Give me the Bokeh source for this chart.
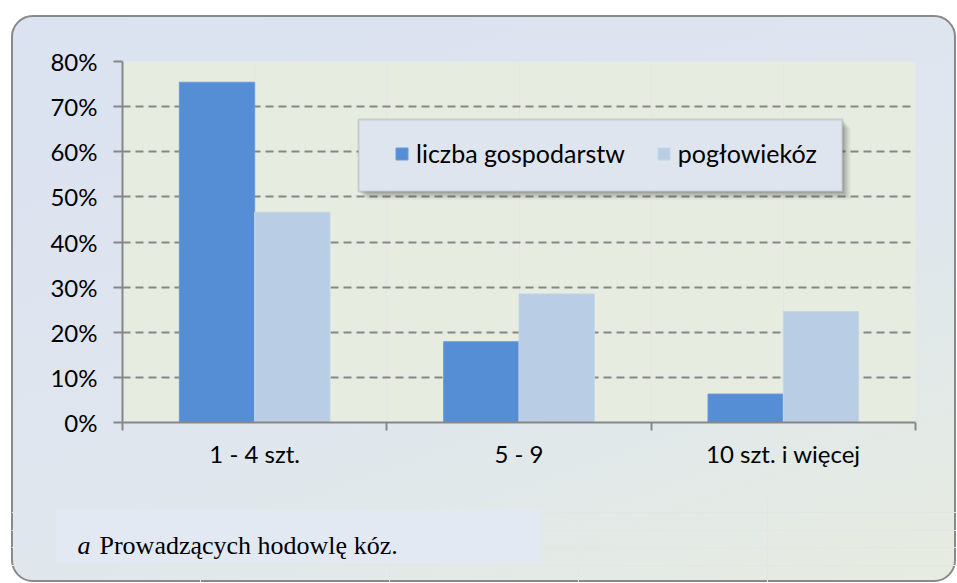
from bokeh.plotting import figure
from bokeh.layouts import column
from bokeh.models import (Range1d, FixedTicker, LinearAxis, NumeralTickFormatter, Legend,
                          LegendItem, BoxAnnotation, Label, Grid)
from bokeh.embed import file_html
from bokeh.resources import INLINE

# ---- data ----
categories = ["1 - 4 szt.", "5 - 9", "10 szt. i więcej"]
series_names = ["liczba gospodarstw", "pogłowiekóz"]
gospodarstw = [0.754, 0.179, 0.063]
poglowie = [0.466, 0.285, 0.246]
y_ticks = [0.0, 0.1, 0.2, 0.3, 0.4, 0.5, 0.6, 0.7, 0.8]
footnote_mark = "a"
footnote_text = "Prowadzących hodowlę kóz."

# ---- style ----
DARK = "#558ed5"
LIGHT = "#b9cde5"
GRAY = "#878787"
FONT = "Lato"
FS = "24px"

centers = [i + 0.5 for i in range(len(categories))]
boundaries = [float(i) for i in range(len(categories) + 1)]
bar_w = 0.285
x_dark = [c - bar_w / 2 for c in centers]
x_light = [c + bar_w / 2 for c in centers]

p = figure(width=945, height=480, x_range=Range1d(0, len(categories)), y_range=Range1d(0, 0.8),
           output_backend="svg", toolbar_location=None,
           x_axis_location=None, y_axis_location=None,
           min_border_left=111, min_border_right=41, min_border_top=46, min_border_bottom=73)
p.outline_line_color = None
p.background_fill_color = "#e7ece0"
p.border_fill_alpha = 0
p.frame_align = False

# y axis
yaxis = LinearAxis(ticker=FixedTicker(ticks=y_ticks), formatter=NumeralTickFormatter(format="0%"))
yaxis.axis_line_color = GRAY
yaxis.axis_line_width = 2
yaxis.major_tick_line_color = GRAY
yaxis.major_tick_line_width = 2
yaxis.major_tick_out = 9
yaxis.major_tick_in = 0
yaxis.minor_tick_line_color = None
yaxis.major_label_standoff = 16
yaxis.major_label_text_font = FONT
yaxis.major_label_text_font_size = FS
yaxis.major_label_text_color = "#000000"
p.add_layout(yaxis, "left")

grid = Grid(dimension=1, ticker=yaxis.ticker)
grid.grid_line_color = GRAY
grid.grid_line_width = 2
grid.grid_line_dash = "8 5"
p.add_layout(grid)

# x axis: labels at category centres, tick marks at category boundaries (minor ticks)
xaxis = LinearAxis(ticker=FixedTicker(ticks=centers, minor_ticks=boundaries))
xaxis.major_label_overrides = {c: cat for c, cat in zip(centers, categories)}
xaxis.axis_line_color = GRAY
xaxis.axis_line_width = 2
xaxis.major_tick_line_color = None
xaxis.major_tick_out = 0
xaxis.major_tick_in = 0
xaxis.minor_tick_line_color = GRAY
xaxis.minor_tick_line_width = 2
xaxis.minor_tick_out = 8
xaxis.minor_tick_in = 0
xaxis.major_label_standoff = 8
xaxis.major_label_text_font = FONT
xaxis.major_label_text_font_size = FS
xaxis.major_label_text_color = "#000000"
p.add_layout(xaxis, "below")

r1 = p.vbar(x=x_dark, top=gospodarstw, width=bar_w, bottom=0, fill_color=DARK,
            line_color="#6a9bdb", line_width=1)
r2 = p.vbar(x=x_light, top=poglowie, width=bar_w, bottom=0, fill_color=LIGHT,
            line_color="#c6d6ea", line_width=1)

# legend box with shadow (screen units relative to frame)
for off, a in [(8, 0.05), (6, 0.07), (4, 0.09), (2, 0.1)]:
    p.add_layout(BoxAnnotation(left=236 + off, right=720 + off, top=303 - off, bottom=231 - off,
                               left_units="screen", right_units="screen",
                               top_units="screen", bottom_units="screen",
                               fill_color="#000000", fill_alpha=a, line_color=None))
p.add_layout(BoxAnnotation(left=236, right=720, top=303, bottom=231,
                           left_units="screen", right_units="screen",
                           top_units="screen", bottom_units="screen",
                           fill_color="#dee5ef", fill_alpha=1.0, line_color="#8c8c8c", line_width=2))

legend = Legend(items=[LegendItem(label=series_names[0], renderers=[r1]),
                       LegendItem(label=series_names[1], renderers=[r2])],
                orientation="horizontal", location=(272, 254))
legend.border_line_alpha = 0
legend.background_fill_alpha = 0
legend.padding = 0
legend.margin = 0
legend.spacing = 31
legend.glyph_width = 15
legend.glyph_height = 15
legend.label_standoff = 7
legend.label_text_font = FONT
legend.label_text_font_size = "25px"
legend.label_text_color = "#000000"
p.add_layout(legend)

# footnote panel
f = figure(width=945, height=87, x_range=Range1d(0, 1), y_range=Range1d(0, 1),
           output_backend="svg", toolbar_location=None,
           x_axis_location=None, y_axis_location=None, min_border=0)
f.outline_line_color = None
f.background_fill_alpha = 0
f.border_fill_alpha = 0
f.frame_align = False
f.add_layout(BoxAnnotation(left=45, right=529, top=73, bottom=20,
                           left_units="screen", right_units="screen",
                           top_units="screen", bottom_units="screen",
                           fill_color="#e3e9f3", fill_alpha=1.0, line_color=None))
f.add_layout(Label(x=66, y=37, x_units="screen", y_units="screen", text=footnote_mark,
                   text_font="Liberation Serif", text_font_style="italic", text_font_size="26px",
                   text_baseline="alphabetic", text_color="#000000"))
f.add_layout(Label(x=88, y=37, x_units="screen", y_units="screen", text=footnote_text,
                   text_font="Liberation Serif", text_font_size="26px",
                   text_baseline="alphabetic", text_color="#000000"))

layout = column(p, f, spacing=0, margin=(15, 0, 0, 11))
layout.styles = {
    "background": "linear-gradient(160deg, #dbe2f1 0%, #dfe6ee 55%, #e6ece0 100%)",
    "border-radius": "22px",
    "outline": "2px solid #8a8a8a",
    "outline-offset": "-2px",
    "overflow": "hidden",
}

open("out.html", "w").write(file_html(layout, INLINE))
